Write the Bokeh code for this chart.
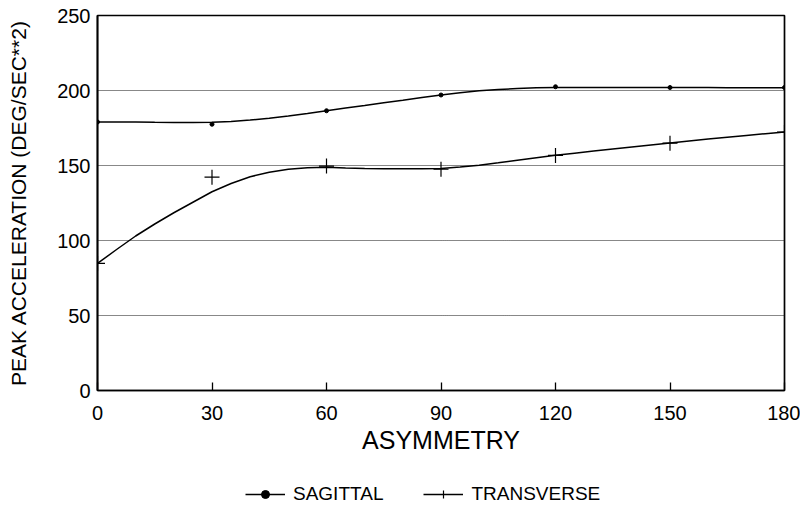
from bokeh.plotting import figure
from bokeh.layouts import column
from bokeh.models import Range1d, FixedTicker, Legend, LegendItem
from bokeh.embed import file_html
from bokeh.resources import INLINE

# Measured data (degrees of asymmetry vs peak acceleration)
angles = [0, 30, 60, 90, 120, 150, 180]
sagittal = [179, 177.5, 186.5, 197, 202.5, 202, 202]
transverse = [84.7, 142.2, 149.6, 147.5, 156.7, 164.9, 172.2]

# Smoothed fitted curves, every 5 degrees
fit_angles = [0, 5, 10, 15, 20, 25, 30, 35, 40, 45, 50, 55, 60, 65, 70, 75, 80, 85, 90,
              95, 100, 105, 110, 115, 120, 125, 130, 135, 140, 145, 150, 155, 160, 165, 170, 175, 180]
sagittal_fit = [179, 179, 179, 178.8, 178.7, 178.7, 178.8, 179.3, 180.3, 181.5, 183, 184.7, 186.5,
                188.3, 190, 191.8, 193.5, 195.3, 197, 198.5, 199.8, 200.7, 201.3, 201.8, 202, 202,
                202, 202, 202, 202, 202, 202, 202, 201.9, 201.9, 201.8, 201.8]
transverse_fit = [84.7, 94, 103, 111, 118.5, 125.5, 132.5, 138, 142.5, 145.5, 147.5, 148.5, 148.8,
                  148.3, 148, 147.8, 147.8, 147.8, 148, 149, 150.2, 151.8, 153.5, 155.2, 156.8, 158.2,
                  159.6, 161, 162.4, 163.7, 165, 166.3, 167.6, 168.8, 170, 171.2, 172.3]

x_ticks = [0, 30, 60, 90, 120, 150, 180]
y_ticks = [0, 50, 100, 150, 200, 250]
grid_values = [50, 100, 150, 200]
series_names = ["SAGITTAL", "TRANSVERSE"]

FONT = "Liberation Sans"

p = figure(width=800, height=465, output_backend="svg", toolbar_location=None,
           x_range=Range1d(0, 180), y_range=Range1d(0, 250),
           min_border_left=97, min_border_right=16, min_border_top=15, min_border_bottom=75)
p.outline_line_color = "black"
p.outline_line_width = 1.7
p.background_fill_color = "white"
p.border_fill_color = "white"

p.xgrid.visible = False
p.ygrid.ticker = FixedTicker(ticks=grid_values)
p.ygrid.grid_line_color = "#111111"
p.ygrid.grid_line_dash = "1 1"
p.ygrid.grid_line_width = 1

p.xaxis.ticker = FixedTicker(ticks=x_ticks)
p.yaxis.ticker = FixedTicker(ticks=y_ticks)
for ax in (p.xaxis[0], p.yaxis[0]):
    ax.axis_line_color = "black"
    ax.axis_line_width = 1.7
    ax.major_tick_line_color = "black"
    ax.major_tick_line_width = 1.3
    ax.minor_tick_line_color = None
    ax.major_label_text_font = FONT
    ax.major_label_text_font_size = "20px"
    ax.major_label_text_color = "black"
    ax.axis_label_text_font = FONT
    ax.axis_label_text_font_style = "normal"
    ax.axis_label_text_color = "black"

p.xaxis.major_tick_in = 8
p.xaxis.major_tick_out = 0
p.xaxis.major_label_standoff = 15
p.xaxis.axis_label = "ASYMMETRY"
p.xaxis.axis_label_text_font_size = "25px"
p.xaxis.axis_label_standoff = 3

p.yaxis.major_tick_in = 0
p.yaxis.major_tick_out = 0
p.yaxis.major_label_standoff = 7
p.yaxis.axis_label = "PEAK ACCELERATION (DEG/SEC**2)"
p.yaxis.axis_label_text_font_size = "21px"
p.yaxis.axis_label_standoff = 24

line_kw = dict(line_color="black", line_width=1.5)
s_mark_kw = dict(marker="circle", size=4, fill_color="black", line_color="black")
t_mark_kw = dict(marker="cross", size=15, line_color="black", line_width=1.2)

p.line(fit_angles, sagittal_fit, **line_kw)
p.scatter(angles, sagittal, **s_mark_kw)
p.line(fit_angles, transverse_fit, **line_kw)
p.scatter(angles, transverse, **t_mark_kw)

# Legend strip below the chart (same glyph styles, data outside its view)
lg = figure(width=800, height=47, output_backend="svg", toolbar_location=None,
            x_range=Range1d(1000, 1001), y_range=Range1d(1000, 1001),
            x_axis_location=None, y_axis_location=None, min_border=0)
lg.grid.visible = False
lg.outline_line_color = None
lg.background_fill_color = "white"
lg.border_fill_color = "white"
ls_line = lg.line(fit_angles, sagittal_fit, **line_kw)
ls_mark = lg.scatter(angles, sagittal, **s_mark_kw)
lt_line = lg.line(fit_angles, transverse_fit, **line_kw)
lt_mark = lg.scatter(angles, transverse, **t_mark_kw)

legend = Legend(items=[LegendItem(label=series_names[0], renderers=[ls_line, ls_mark]),
                       LegendItem(label=series_names[1], renderers=[lt_line, lt_mark])],
                orientation="horizontal", location=(148, 7))
legend.padding = 0
legend.margin = 0
legend.spacing = 40
legend.glyph_width = 40
legend.glyph_height = 20
legend.label_standoff = 8
legend.label_text_font = FONT
legend.label_text_font_size = "19px"
legend.label_text_color = "black"
legend.border_line_alpha = 0
legend.background_fill_alpha = 0
lg.add_layout(legend, "center")

layout = column(p, lg, spacing=0)
open("out.html", "w").write(file_html(layout, INLINE))
